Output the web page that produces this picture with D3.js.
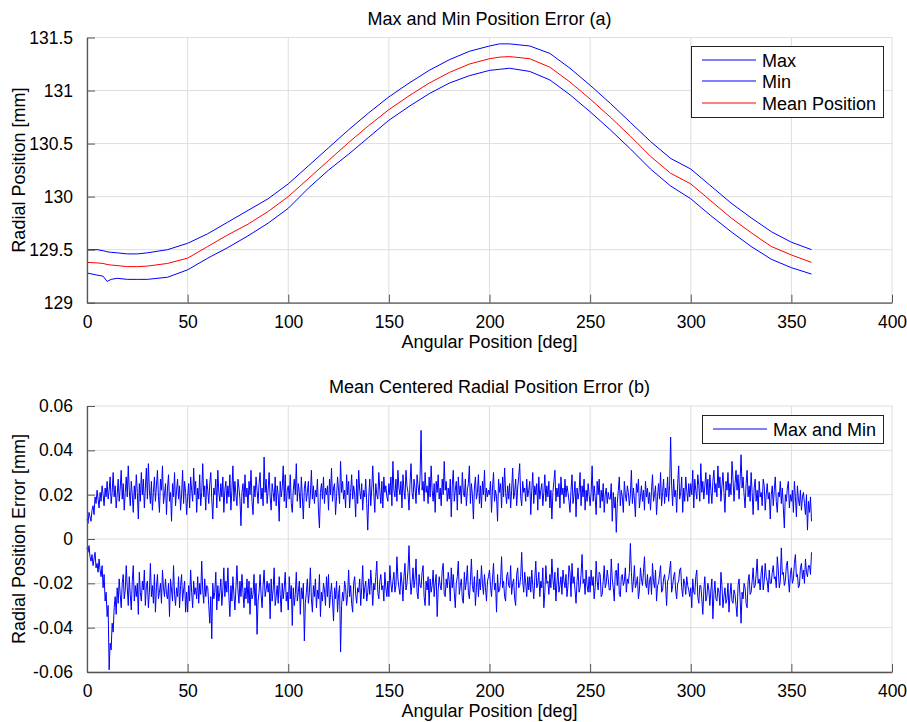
<!DOCTYPE html>
<html><head><meta charset="utf-8">
<script src="https://cdn.jsdelivr.net/npm/d3@7"></script>
<style>
body{margin:0;background:#fff;}
svg text{font-family:"Liberation Sans",Arial,sans-serif;fill:#000;}
</style></head>
<body><svg id="c" width="907" height="722"></svg>
<script>
// ---------- DATA ----------
const xTicks = [0,50,100,150,200,250,300,350,400];
const yTicksTop = [129,129.5,130,130.5,131,131.5];
const yTickLabelsTop = ["129","129.5","130","130.5","131","131.5"];
const yTicksBot = [-60,-40,-20,0,20,40,60];            // micrometres
const yTickLabelsBot = ["-0.06","-0.04","-0.02","0","0.02","0.04","0.06"]; // mm

// Panel (a): angular positions (deg) and radial positions (mm)
const angA = [0,5,8,10,12,15,20,25,30,40,50,60,70,80,90,100,110,120,130,140,150,160,170,180,190,200,205,210,220,230,240,250,260,270,280,290,300,310,320,330,340,350,360];
const maxA = [129.50,129.50,129.49,129.48,129.475,129.47,129.46,129.46,129.47,129.50,129.56,129.65,129.76,129.87,129.98,130.12,130.29,130.46,130.63,130.79,130.94,131.07,131.19,131.29,131.37,131.42,131.44,131.44,131.42,131.35,131.21,131.05,130.88,130.70,130.52,130.36,130.26,130.10,129.94,129.80,129.67,129.57,129.50];
const minA = [129.28,129.26,129.25,129.20,129.22,129.23,129.22,129.22,129.22,129.24,129.31,129.42,129.52,129.63,129.75,129.89,130.08,130.25,130.40,130.56,130.72,130.85,130.97,131.07,131.14,131.19,131.20,131.21,131.18,131.10,130.96,130.80,130.63,130.45,130.26,130.10,129.98,129.82,129.67,129.53,129.41,129.33,129.27];
const meanA = [129.38,129.375,129.37,129.36,129.355,129.35,129.34,129.34,129.345,129.37,129.42,129.53,129.64,129.74,129.86,130.00,130.17,130.34,130.51,130.67,130.82,130.95,131.07,131.17,131.25,131.30,131.315,131.32,131.30,131.22,131.08,130.92,130.75,130.57,130.38,130.22,130.12,129.96,129.80,129.66,129.53,129.45,129.38];

// Panel (b): error every 0.5 deg from 0 to 360 (micrometres)
const angB = d3.range(0,360.5,0.5);
const errMax = [
9,7,12,10,8,13,15,11,19,16,22,18,14,21,17,24,20,15,23,19,
26,18,22,28,16,21,30,19,24,14,20,27,17,23,31,18,25,13,21,28,
19,33,22,15,26,20,12,24,18,29,21,9,25,17,30,20,27,14,23,32,
18,34,22,16,26,13,21,28,17,24,31,19,12,27,22,33,16,20,25,11,
23,29,17,21,8,25,19,30,15,22,27,18,24,13,20,31,16,26,21,11,
19,25,14,28,22,17,32,20,26,12,23,18,29,15,21,34,19,24,13,27,
22,16,25,30,18,9,23,20,27,14,31,21,17,25,19,28,12,22,26,16,
24,19,29,13,22,33,17,26,20,15,27,23,18,6,21,25,16,29,19,23,
14,26,20,31,17,11,24,19,28,22,16,25,30,18,23,15,37,21,27,16,
22,30,19,13,25,21,17,28,15,24,20,8,26,19,23,33,17,29,14,22,
24,18,29,16,12,22,27,20,34,17,25,21,14,28,19,9,23,26,17,21,
26,14,20,31,18,24,16,22,19,27,13,5,21,25,18,28,16,23,20,24,
13,27,20,32,17,23,25,11,19,28,22,16,35,21,26,18,22,14,29,20,
26,14,21,29,18,24,20,10,27,16,31,22,18,25,13,22,19,27,16,4,
19,27,15,23,33,21,12,25,20,18,30,22,16,26,14,28,21,24,19,17,
25,20,28,15,35,22,19,27,17,31,23,20,26,14,29,22,18,31,24,21,
13,25,34,21,18,27,23,16,29,24,20,28,49,22,26,17,30,21,24,16,
28,19,33,22,17,25,12,26,21,29,18,23,15,27,20,35,22,26,17,23,
18,27,10,24,31,17,22,26,13,28,20,24,16,30,21,19,27,15,22,25,
33,16,25,20,9,23,28,18,21,29,16,24,14,26,20,31,17,23,19,22,
20,26,12,23,30,17,22,19,8,27,21,25,14,28,19,32,21,16,24,18,
25,14,22,32,18,21,27,15,23,28,34,19,15,26,21,23,17,27,19,22,
26,11,22,30,16,24,20,25,13,28,18,22,25,15,21,29,17,24,19,26,
14,22,9,21,26,31,17,23,19,25,14,28,20,23,16,27,19,24,21,17,
12,22,29,16,20,26,10,23,18,21,30,15,24,19,27,13,22,17,25,20,
15,21,33,17,24,19,11,26,20,27,14,22,17,25,12,20,23,16,21,18,
18,25,8,21,14,19,3,16,22,28,15,22,19,12,26,20,17,24,21,15,
20,31,16,23,18,10,25,21,27,14,19,24,17,22,13,26,19,23,16,21,
13,22,29,17,20,24,11,19,25,18,30,15,21,27,16,23,19,28,17,24,
46,24,15,27,19,22,12,25,33,18,21,28,12,23,17,28,22,17,25,19,
25,20,31,14,27,22,18,29,24,17,34,21,26,18,24,30,20,27,16,29,
22,16,26,31,21,25,19,33,23,28,17,24,30,21,12,26,22,30,19,25,
20,35,27,17,25,31,22,29,18,26,38,23,28,20,14,25,31,19,24,17,
30,21,11,23,27,17,22,13,26,19,21,15,27,24,13,20,25,18,21,9,
20,24,15,22,28,17,12,21,19,26,16,23,14,5,20,17,23,26,14,20,
17,22,12,26,19,10,24,18,15,22,13,19,21,16,11,20,4,17,12,19,
8];
const errMin = [
-4,-6,-3,-8,-10,-7,-12,-9,-6,-13,-11,-15,-9,-14,-17,-12,-22,-16,-28,-24,
-35,-30,-59,-47,-50,-38,-42,-31,-26,-34,-22,-29,-18,-25,-31,-20,-16,-27,-23,-12,
-22,-30,-17,-25,-32,-19,-12,-28,-21,-26,-20,-34,-15,-24,-28,-19,-23,-14,-30,-21,
-19,-31,-24,-11,-26,-21,-29,-16,-33,-22,-16,-27,-24,-20,-29,-14,-22,-26,-18,-25,
-27,-20,-35,-18,-23,-28,-12,-25,-30,-22,-26,-17,-31,-21,-16,-28,-23,-19,-33,-24,
-33,-21,-28,-14,-24,-31,-19,-25,-22,-27,-17,-29,-20,-25,-10,-23,-29,-18,-26,-21,
-22,-30,-38,-26,-45,-20,-27,-24,-15,-32,-21,-28,-24,-18,-30,-23,-13,-26,-19,-24,
-13,-26,-35,-21,-28,-17,-25,-32,-22,-12,-23,-29,-19,-26,-16,-24,-31,-22,-27,-18,
-29,-19,-34,-22,-27,-25,-16,-30,-20,-43,-28,-24,-16,-25,-31,-21,-14,-26,-23,-19,
-24,-20,-36,-18,-28,-23,-13,-30,-26,-21,-29,-17,-25,-33,-20,-27,-22,-15,-28,-24,
-32,-17,-27,-21,-39,-22,-30,-25,-15,-28,-24,-19,-34,-22,-27,-20,-46,-29,-24,-18,
-29,-24,-13,-27,-33,-21,-26,-18,-31,-23,-27,-16,-35,-24,-28,-20,-23,-30,-17,-26,
-16,-31,-25,-20,-28,-37,-22,-27,-19,-33,-25,-21,-51,-30,-24,-28,-19,-22,-30,-25,
-14,-26,-21,-29,-33,-20,-17,-25,-29,-22,-24,-18,-30,-22,-12,-27,-22,-19,-28,-24,
-18,-25,-14,-21,-30,-20,-23,-17,-10,-24,-27,-19,-16,-23,-21,-28,-15,-22,-26,-19,
-26,-12,-20,-24,-19,-15,-24,-21,-8,-18,-22,-25,-15,-20,-28,-17,-11,-23,-20,-14,
-3,-17,-25,-20,-13,-22,-18,-9,-24,-27,-16,-21,-22,-15,-12,-26,-30,-19,-23,-17,
-30,-18,-24,-21,-14,-26,-20,-16,-35,-23,-17,-21,-23,-14,-11,-25,-26,-18,-22,-15,
-19,-28,-13,-22,-16,-24,-31,-20,-17,-10,-25,-21,-18,-27,-29,-15,-23,-19,-12,-24,
-27,-19,-9,-21,-24,-17,-30,-22,-14,-26,-18,-23,-12,-20,-25,-16,-22,-28,-19,-17,
-14,-21,-26,-18,-11,-23,-20,-33,-16,-24,-23,-19,-8,-22,-19,-26,-28,-17,-15,-21,
-22,-12,-25,-20,-18,-27,-30,-16,-13,-22,-21,-17,-6,-19,-24,-15,-20,-26,-17,-23,
-17,-24,-14,-21,-27,-18,-10,-22,-20,-15,-26,-19,-22,-13,-31,-24,-12,-20,-19,-25,
-16,-22,-9,-18,-23,-15,-28,-20,-13,-24,-21,-17,-25,-14,-19,-22,-16,-26,-21,-12,
-15,-26,-11,-20,-17,-23,-29,-19,-13,-24,-22,-16,-7,-20,-18,-25,-14,-21,-24,-17,
-24,-14,-21,-17,-27,-22,-10,-19,-23,-15,-16,-26,-25,-19,-12,-22,-20,-14,-18,-23,
-23,-9,-18,-22,-28,-15,-14,-21,-11,-25,-26,-17,-16,-21,-19,-13,-24,-18,-20,-15,
-2,-15,-24,-19,-12,-22,-20,-17,-27,-23,-13,-18,-21,-15,-8,-20,-22,-16,-25,-19,
-17,-25,-11,-19,-22,-14,-28,-21,-20,-16,-12,-24,-23,-18,-16,-21,-30,-19,-18,-14,
-10,-24,-21,-17,-15,-23,-27,-20,-19,-14,-13,-22,-26,-18,-20,-25,-17,-21,-23,-26,
-22,-31,-18,-24,-25,-17,-14,-26,-29,-21,-21,-27,-34,-23,-17,-28,-26,-20,-23,-30,
-23,-18,-36,-25,-19,-27,-28,-22,-24,-30,-15,-21,-31,-26,-22,-29,-27,-20,-33,-25,
-20,-28,-29,-23,-25,-30,-35,-21,-18,-26,-38,-24,-27,-20,-22,-29,-31,-19,-16,-25,
-24,-19,-13,-22,-21,-16,-9,-20,-18,-23,-15,-12,-23,-19,-11,-17,-19,-24,-14,-20,
-20,-15,-12,-18,-17,-22,-8,-14,-22,-19,-4,-16,-15,-21,-19,-12,-10,-18,-24,-16,
-13,-20,-18,-11,-7,-17,-16,-22,-21,-13,-11,-18,-14,-20,-9,-15,-17,-12,-12,-16,
-6];

// ---------- DRAW ----------
const svg = d3.select("#c");
const FS = 18, TFS = 17.5;
const AX = "#555", GRID = "#dedede";
const L = 87, R = 892;

function panel(o){
  const g = svg.append("g");
  const x = d3.scaleLinear().domain([0,400]).range([L,R]);
  const y = d3.scaleLinear().domain(o.yDom).range([o.bottom,o.top]);
  // grid
  g.append("g").selectAll("line").data(xTicks).join("line")
    .attr("x1",d=>x(d)).attr("x2",d=>x(d)).attr("y1",o.top).attr("y2",o.bottom)
    .attr("stroke",GRID).attr("stroke-width",1);
  g.append("g").selectAll("line").data(o.yTicks).join("line")
    .attr("x1",L).attr("x2",R).attr("y1",d=>y(d)).attr("y2",d=>y(d))
    .attr("stroke",GRID).attr("stroke-width",1);
  // series
  o.series.forEach(s=>{
    const line = d3.line().x((d,i)=>x(s.x[i])).y(d=>y(d));
    g.append("path").datum(s.y).attr("d",line).attr("fill","none")
      .attr("stroke",s.color).attr("stroke-width",1).attr("stroke-linejoin","round");
  });
  // axes
  const xa = d3.axisBottom(x).tickValues(xTicks).tickSize(-8).tickPadding(13).tickSizeOuter(0);
  const xg = g.append("g").attr("transform",`translate(0,${o.bottom})`).call(xa);
  const ya = d3.axisLeft(y).tickValues(o.yTicks).tickSize(-8).tickPadding(14).tickSizeOuter(0)
    .tickFormat((d,i)=>o.yLabels[i]);
  const yg = g.append("g").attr("transform",`translate(${L},0)`).call(ya);
  [xg,yg].forEach(a=>{
    a.select(".domain").attr("stroke",AX).attr("stroke-width",1.3);
    a.selectAll(".tick line").attr("stroke",AX).attr("stroke-width",1);
    a.selectAll(".tick text").attr("font-size",TFS).attr("font-family","Liberation Sans, Arial, sans-serif").attr("fill","#000");
  });
  // titles
  g.append("text").attr("x",(L+R)/2).attr("y",o.top-13).attr("text-anchor","middle")
    .attr("font-size",FS).text(o.title);
  g.append("text").attr("x",(L+R)/2).attr("y",o.bottom+45).attr("text-anchor","middle")
    .attr("font-size",FS).text("Angular Position [deg]");
  g.append("text").attr("transform",`translate(25,${(o.top+o.bottom)/2}) rotate(-90)`)
    .attr("text-anchor","middle").attr("font-size",FS).text(o.ylab);
  // legend
  const lg = g.append("g");
  lg.append("rect").attr("x",o.leg.x+0.5).attr("y",o.leg.y+0.5).attr("width",o.leg.w).attr("height",o.leg.h)
    .attr("fill","#fff").attr("stroke","#222").attr("stroke-width",1);
  o.leg.items.forEach((it,i)=>{
    const cy = Math.round(o.leg.y + 14 + i*21.3);
    lg.append("line").attr("x1",o.leg.x+11).attr("x2",o.leg.x+65).attr("y1",cy).attr("y2",cy)
      .attr("stroke",it.color).attr("stroke-width",1);
    lg.append("text").attr("x",o.leg.x+71).attr("y",cy+6.5).attr("font-size",FS).text(it.name);
  });
}

panel({
  top:37.5, bottom:302.7, yDom:[129,131.5], yTicks:yTicksTop, yLabels:yTickLabelsTop,
  title:"Max and Min Position Error (a)", ylab:"Radial Position [mm]",
  series:[{x:angA,y:maxA,color:"#0000ff"},{x:angA,y:minA,color:"#0000ff"},{x:angA,y:meanA,color:"#ff0000"}],
  leg:{x:691,y:46,w:192,h:71,items:[{name:"Max",color:"#0000ff"},{name:"Min",color:"#0000ff"},{name:"Mean Position",color:"#ff0000"}]}
});
panel({
  top:406, bottom:672, yDom:[-60,60], yTicks:yTicksBot, yLabels:yTickLabelsBot,
  title:"Mean Centered Radial Position Error (b)", ylab:"Radial Position Error [mm]",
  series:[{x:angB,y:errMax,color:"#0000ff"},{x:angB,y:errMin,color:"#0000ff"}],
  leg:{x:702,y:415,w:181,h:28,items:[{name:"Max and Min",color:"#0000dd"}]}
});
</script></body></html>
